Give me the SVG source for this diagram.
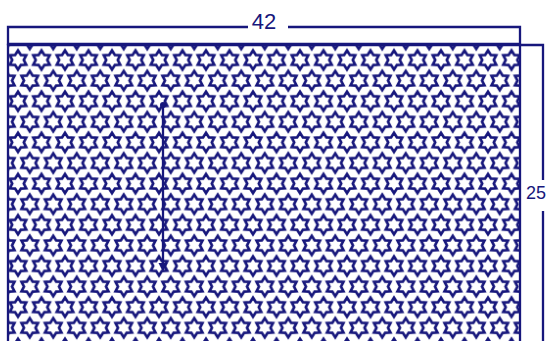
<svg xmlns="http://www.w3.org/2000/svg" width="547" height="341" viewBox="0 0 547 341">
  <style>
    .ln{stroke:#17177c;stroke-width:2.3;fill:none}
    .st{fill:none;stroke:#17177c;stroke-width:2.7;stroke-linejoin:miter}
    .lbl{font-family:"Liberation Sans",Arial,sans-serif;fill:#17177c}
  </style>
  <defs>
    <path id="star" d="M0,-9.5 L2.9,-5 L8.2,-4.75 L5.8,0 L8.2,4.75 L2.9,5 L0,9.5 L-2.9,5 L-8.2,4.75 L-5.8,0 L-8.2,-4.75 L-2.9,-5 Z"/>
    <pattern id="stars" patternUnits="userSpaceOnUse" x="6.25" y="49.7" width="23.5" height="41.2">
      <use href="#star" class="st" x="11.75" y="10.3"/>
      <use href="#star" class="st" x="11.75" y="51.5"/>
      <use href="#star" class="st" x="0" y="30.9"/>
      <use href="#star" class="st" x="23.5" y="30.9"/>
      <use href="#star" class="st" x="0" y="-10.3"/>
      <use href="#star" class="st" x="23.5" y="-10.3"/>
    </pattern>
  </defs>
  <rect width="547" height="341" fill="#ffffff"/>
  <g id="panel">
    <rect x="8" y="45" width="512" height="300" fill="url(#stars)"/>
    <path class="ln" d="M8,345 V45 H520 V345"/>
  </g>
  <g id="band">
    <path class="ln" d="M248,27 H8 V44 H520 V27 H288"/>
  </g>
  <g id="dimension-top">
    <text class="lbl" x="264" y="29" font-size="22" text-anchor="middle">42</text>
  </g>
  <g id="dimension-right">
    <path class="ln" d="M520,45 H543 V180 M543,211 V341"/>
    <text class="lbl" x="526" y="199" font-size="18">25</text>
  </g>
  <g id="connectors">
    <line class="ln" x1="163" y1="105" x2="163" y2="266" stroke-width="1.8"/>
    <circle cx="163" cy="105" r="3" fill="#17177c"/>
    <path d="M158.5,263 L167.5,263 L163,272 Z" fill="#17177c"/>
  </g>
</svg>
